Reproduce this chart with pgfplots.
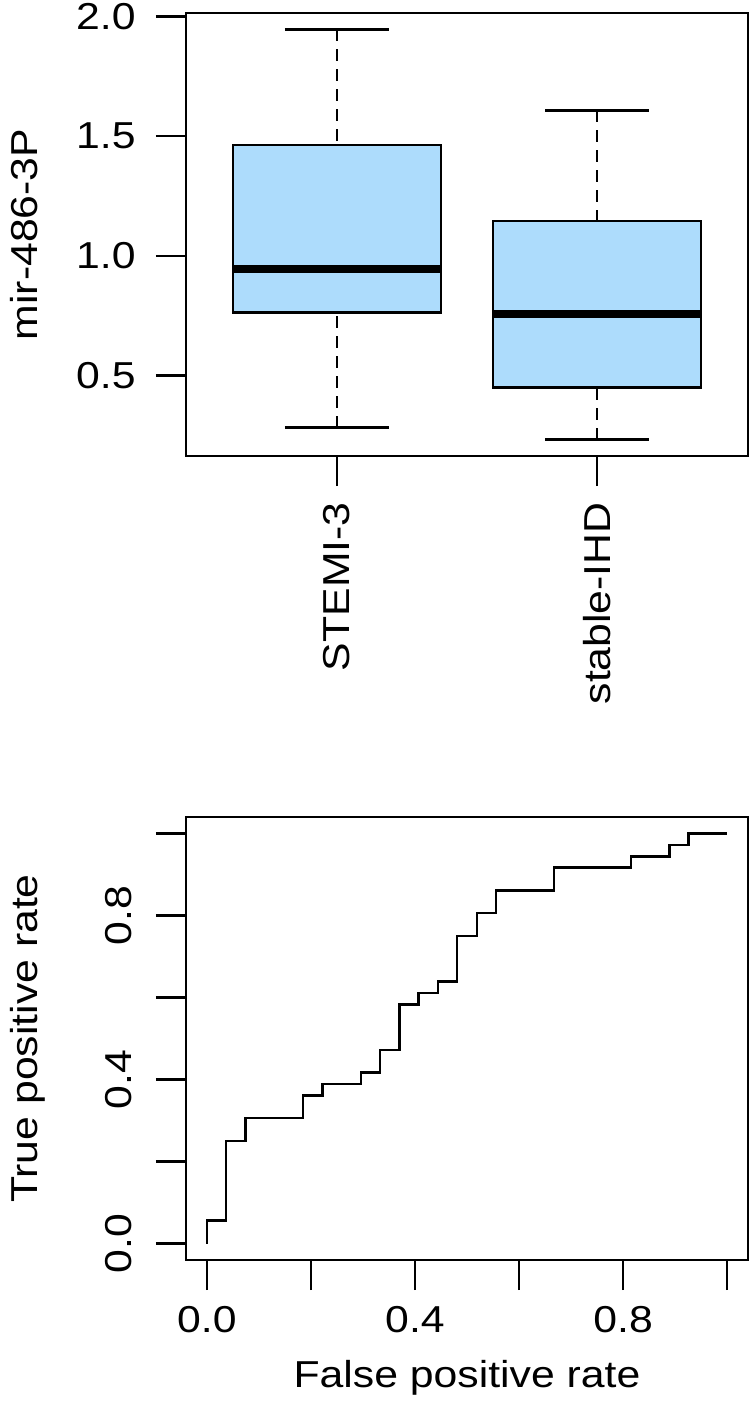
\documentclass[border=0pt]{standalone}
\usepackage{fontspec}
\setmainfont{Liberation Sans}[FakeStretch=1.14]
\usepackage{pgfplots}
\pgfplotsset{compat=1.18}
\usepgfplotslibrary{statistics}
\definecolor{boxfill}{HTML}{ADDCFC}
\newcommand{\rfont}{\fontsize{18.75pt}{22pt}\selectfont}

\pgfplotsset{
  rstyle/.style={
    scale only axis, width=281pt, height=221.5pt,
    axis line style={line width=1.3pt},
    tick style={line width=1.3pt, black},
    tick align=outside, major tick length=15pt,
    xtick pos=bottom, ytick pos=left,
    tick label style={font=\rfont, inner sep=0pt},
    every axis plot/.append style={line width=1.3pt},
  },
  rwhisk/.style={
    boxplot/draw direction=y,
    boxplot/draw/lower whisker/.code={%
      \draw[dash pattern=on 6pt off 4pt]
        (boxplot box cs:\pgfplotsboxplotvalue{lower whisker},0.5) --
        (boxplot box cs:\pgfplotsboxplotvalue{lower quartile},0.5);
      \draw (boxplot whisker cs:\pgfplotsboxplotvalue{lower whisker},0) --
        (boxplot whisker cs:\pgfplotsboxplotvalue{lower whisker},1);
    },
    boxplot/draw/upper whisker/.code={%
      \draw[dash pattern=on 6pt off 4pt]
        (boxplot box cs:\pgfplotsboxplotvalue{upper whisker},0.5) --
        (boxplot box cs:\pgfplotsboxplotvalue{upper quartile},0.5);
      \draw (boxplot whisker cs:\pgfplotsboxplotvalue{upper whisker},0) --
        (boxplot whisker cs:\pgfplotsboxplotvalue{upper whisker},1);
    },
    boxplot/every box/.style={draw=black, fill=boxfill},
    boxplot/every median/.style={line width=4pt},
  },
}

\begin{document}
\begin{tikzpicture}
\useasboundingbox (0,0) rectangle (375pt,-704.5pt);

% box plot
\begin{axis}[rstyle, rwhisk,
  at={(93pt,-228pt)}, anchor=south west,
  xmin=0.42, xmax=2.58, ymin=0.165, ymax=2.0135,
  xtick={1,2}, xticklabels={STEMI-3,stable-IHD},
  xticklabel style={rotate=90, anchor=east}, xticklabel shift=8pt,
  ytick={0.5,1,1.5,2}, yticklabels={0.5,1.0,1.5,2.0},
  yticklabel style={anchor=east}, yticklabel shift=10pt,
  ylabel={mir-486-3P},
  every axis y label/.style={at={(axis description cs:-0.265,0.5)}, rotate=90, anchor=base, font=\rfont},
]
\addplot[draw=black, boxplot prepared={draw position=1,
  lower whisker=0.283, lower quartile=0.764, median=0.944,
  upper quartile=1.4625, upper whisker=1.945,
  box extend=0.8, whisker extend=0.4}] coordinates {};
\addplot[draw=black, boxplot prepared={draw position=2,
  lower whisker=0.233, lower quartile=0.45, median=0.757,
  upper quartile=1.145, upper whisker=1.607,
  box extend=0.8, whisker extend=0.4}] coordinates {};
\end{axis}

% ROC curve
\begin{axis}[rstyle,
  at={(93pt,-630pt)}, anchor=south west,
  xmin=-0.04, xmax=1.04, ymin=-0.04, ymax=1.04,
  xtick={0,0.2,0.4,0.6,0.8,1}, xticklabels={0.0,{},0.4,{},0.8,{}},
  ytick={0,0.2,0.4,0.6,0.8,1}, yticklabels={0.0,{},0.4,{},0.8,{}},
  xticklabel style={anchor=north}, xticklabel shift=8pt,
  yticklabel style={rotate=90, anchor=south}, yticklabel shift=12pt,
  xlabel={False positive rate},
  every axis x label/.style={at={(axis description cs:0.5,-0.2867)}, anchor=base, font=\rfont},
  ylabel={True positive rate},
  every axis y label/.style={at={(axis description cs:-0.265,0.5)}, rotate=90, anchor=base, font=\rfont},
]
\addplot[black, line width=1.3pt] coordinates {
  (0,0) (0,0.056) (0.037,0.056) (0.037,0.25) (0.074,0.25) (0.074,0.306)
  (0.185,0.306) (0.185,0.361) (0.222,0.361) (0.222,0.389) (0.296,0.389)
  (0.296,0.417) (0.333,0.417) (0.333,0.472) (0.370,0.472) (0.370,0.583)
  (0.407,0.583) (0.407,0.611) (0.444,0.611) (0.444,0.639) (0.481,0.639)
  (0.481,0.75) (0.519,0.75) (0.519,0.806) (0.556,0.806) (0.556,0.861)
  (0.667,0.861) (0.667,0.917) (0.815,0.917) (0.815,0.944) (0.889,0.944)
  (0.889,0.972) (0.926,0.972) (0.926,1) (1,1)
};
\end{axis}
\end{tikzpicture}
\end{document}
